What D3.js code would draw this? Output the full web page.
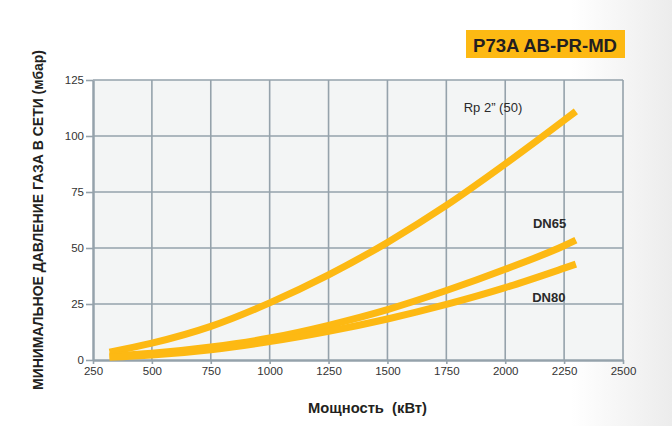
<!DOCTYPE html>
<html><head><meta charset="utf-8">
<script src="https://cdn.jsdelivr.net/npm/d3@7"></script>
<style>
html,body{margin:0;padding:0;}
body{width:672px;height:426px;overflow:hidden;font-family:"Liberation Sans",Arial,sans-serif;}
text{white-space:pre;}
</style></head>
<body><svg id="c" width="672" height="426"></svg>
<script>
const title = "P73A AB-PR-MD";
const xLabel = "Мощность  (кВт)";
const yLabel = "МИНИМАЛЬНОЕ ДАВЛЕНИЕ ГАЗА В СЕТИ (мбар)";
const xTicks = [250,500,750,1000,1250,1500,1750,2000,2250,2500];
const yTicks = [0,25,50,75,100,125];
const power = [320,500,750,1000,1250,1500,1750,2000,2250,2300];
const rp2 = [3.5,7.5,15,25.5,38,52.5,69,87.5,107,111];
const dn65 = [1.8,3,5.8,9.8,15.5,22.5,31,40.5,51,53.5];
const dn80 = [1.2,2.2,4.6,8.2,12.8,18.3,24.8,32.3,41,42.8];
const seriesNames = ["Rp 2\u201d (50)","DN65","DN80"];
const seriesValues = [rp2,dn65,dn80];
const labelPos = [[1948,110.5],[2188,59],[2185,26]];

const svg = d3.select("#c");
const defs = svg.append("defs");
const g = defs.append("linearGradient").attr("id","bg").attr("x1","0").attr("x2","1").attr("y1","0").attr("y2","0");
g.append("stop").attr("offset","0.85").attr("stop-color","#ffffff");
g.append("stop").attr("offset","1").attr("stop-color","#ececec");
svg.append("rect").attr("width",672).attr("height",426).attr("fill","url(#bg)");

const x = d3.scaleLinear().domain([250,2500]).range([93,623]);
const y = d3.scaleLinear().domain([0,125]).range([360,80]);

svg.append("rect").attr("x",x(250)).attr("y",y(125)).attr("width",x(2500)-x(250)).attr("height",y(0)-y(125)).attr("fill","#f3f5f5");

const gridC = "#95a2ab";
svg.append("g").selectAll("line").data(xTicks.slice(1)).join("line")
  .attr("x1",d=>x(d)).attr("x2",d=>x(d)).attr("y1",y(0)).attr("y2",y(125))
  .attr("stroke",gridC).attr("stroke-width",1.6);
svg.append("g").selectAll("line").data(yTicks.slice(1)).join("line")
  .attr("x1",x(250)).attr("x2",x(2500)).attr("y1",d=>y(d)).attr("y2",d=>y(d))
  .attr("stroke",gridC).attr("stroke-width",1.6);

const fmt = d3.format("d");
const xAxis = svg.append("g").attr("transform",`translate(0,${y(0)})`)
  .call(d3.axisBottom(x).tickValues(xTicks).tickFormat(fmt).tickSize(4).tickSizeOuter(0).tickPadding(3));
const yAxis = svg.append("g").attr("transform",`translate(${x(250)},0)`)
  .call(d3.axisLeft(y).tickValues(yTicks).tickFormat(fmt).tickSize(7).tickSizeOuter(0).tickPadding(2));
[xAxis,yAxis].forEach(a=>{
  a.select(".domain").attr("stroke",gridC).attr("stroke-width",2.5);
  a.selectAll(".tick line").attr("stroke",gridC).attr("stroke-width",1.6);
  a.selectAll(".tick text").attr("fill","#333").style("font-family","'Liberation Sans',Arial,sans-serif").style("font-size","11.5px");
});

const line = d3.line().x(d=>x(d[0])).y(d=>y(d[1])).curve(d3.curveMonotoneX);
seriesValues.forEach(vals=>{
  svg.append("path").datum(power.map((p,i)=>[p,vals[i]])).attr("d",line)
    .attr("fill","none").attr("stroke","#fdb913").attr("stroke-width",7).attr("stroke-linecap","butt");
});

svg.append("g").selectAll("text").data(seriesNames).join("text")
  .attr("x",(d,i)=>x(labelPos[i][0])).attr("y",(d,i)=>y(labelPos[i][1]))
  .attr("text-anchor","middle").attr("fill","#2a2a2a")
  .style("font-size",(d,i)=>i===0?"13px":"13px").style("font-weight",(d,i)=>i===0?"normal":"bold")
  .text(d=>d);

svg.append("rect").attr("x",466).attr("y",30).attr("width",159).attr("height",28).attr("fill","#fdb913");
svg.append("text").attr("x",473).attr("y",52).attr("textLength",144).attr("lengthAdjust","spacingAndGlyphs")
  .attr("fill","#231f20").style("font-size","19px").style("font-weight","bold").text(title);

svg.append("text").attr("x",308).attr("y",413).attr("textLength",119).attr("lengthAdjust","spacingAndGlyphs")
  .attr("fill","#231f20").style("font-size","14px").style("font-weight","bold").text(xLabel);
svg.append("text").attr("transform","translate(43,390) rotate(-90)").attr("textLength",340).attr("lengthAdjust","spacingAndGlyphs")
  .attr("fill","#231f20").style("font-size","14.5px").style("font-weight","bold").text(yLabel);
</script></body></html>
